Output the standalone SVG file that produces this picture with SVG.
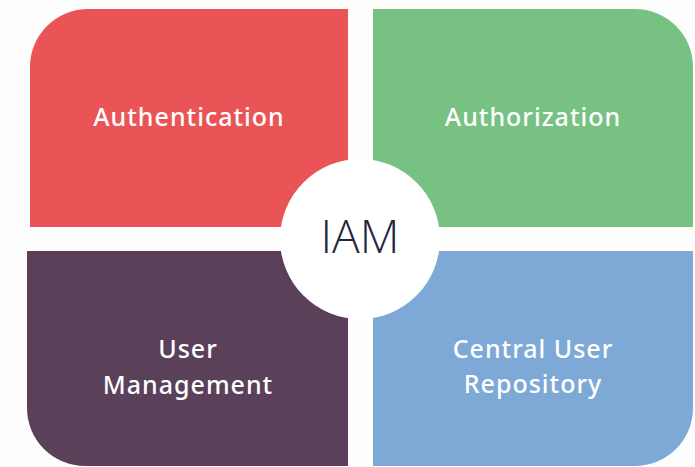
<svg xmlns="http://www.w3.org/2000/svg" width="695" height="467" viewBox="0 0 695 467">
<style>
.lbl{font-family:"Noto Sans","Open Sans",sans-serif;font-size:25px;font-weight:500;fill:#ffffff;text-anchor:middle;letter-spacing:1px}
.iam{font-family:"Open Sans","Noto Sans",sans-serif;font-size:46px;font-weight:300;fill:#1f2640;text-anchor:middle}
</style>
<rect width="695" height="467" fill="#fdfdfd"/>
<g id="authentication">
<path d="M30,67 A58,58 0 0 1 88,9 L348,9 L348,227 L30,227 Z" fill="#eb5456"/>
<text class="lbl" x="189" y="126">Authentication</text>
</g>
<g id="authorization">
<path d="M373,9 L635,9 A58,58 0 0 1 693,67 L693,227 L373,227 Z" fill="#77c282"/>
<text class="lbl" x="533" y="126">Authorization</text>
</g>
<g id="user-management">
<path d="M27,251 L348,251 L348,466 L85,466 A58,58 0 0 1 27,408 Z" fill="#5b405a"/>
<text class="lbl" x="188" y="358">User</text>
<text class="lbl" x="188" y="394">Management</text>
</g>
<g id="central-user-repository">
<path d="M373,251 L693,251 L693,408 A58,58 0 0 1 635,466 L373,466 Z" fill="#7ea8d6"/>
<text class="lbl" x="533" y="358">Central User</text>
<text class="lbl" x="533" y="393">Repository</text>
</g>
<g id="iam">
<circle cx="360" cy="239" r="80" fill="#ffffff"/>
<text class="iam" x="360" y="253">IAM</text>
</g>
<g id="connectors"/>
</svg>
